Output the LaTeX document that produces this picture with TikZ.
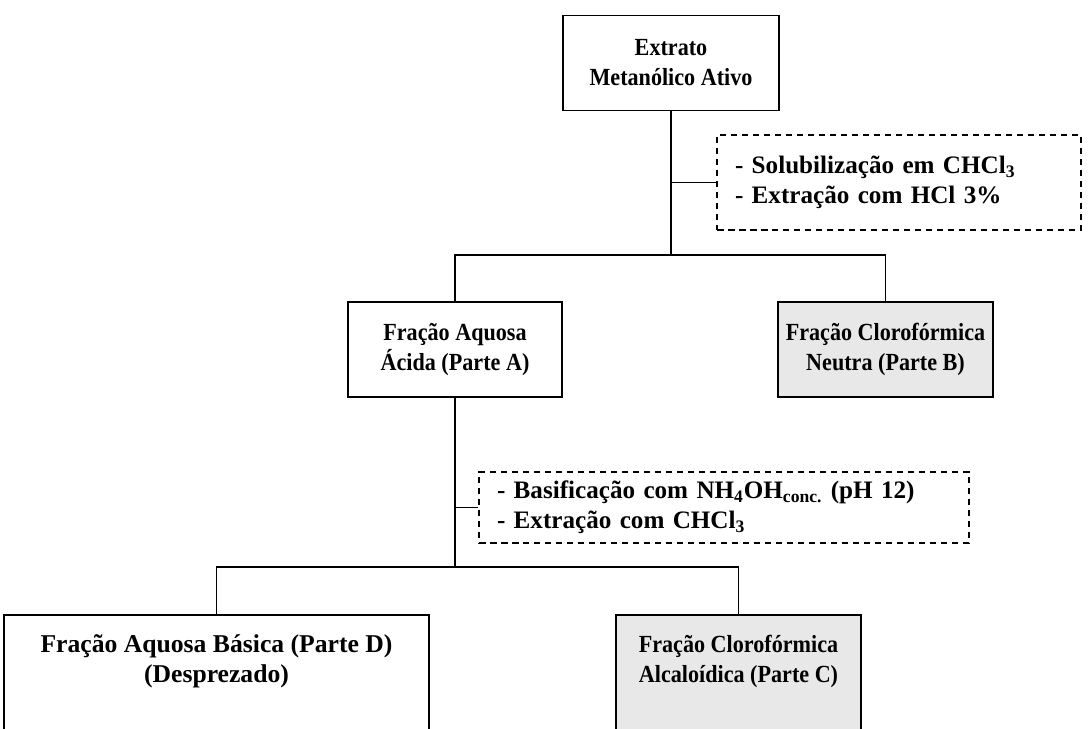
\documentclass[tikz,border=0pt]{standalone}
\usepackage{fontspec}
\setmainfont{Liberation Serif}
\newfontfamily\boxserif[FakeStretch=0.9]{Liberation Serif}
\usepackage{xcolor}
\usetikzlibrary{positioning,calc}
\definecolor{boxgray}{RGB}{232,232,232}

\begin{document}
\begin{tikzpicture}[x=0.02cm,y=-0.02cm,
  every node/.style={font=\boxserif\fontsize{14}{17}\selectfont\bfseries},
  stage/.style={rectangle,draw,line width=1pt,align=center,
                minimum height=95*0.02cm,inner sep=0pt},
  neutral/.style={stage,fill=boxgray},
  cutoff/.style={rectangle,draw,line width=1pt,align=center,
                 anchor=north,inner xsep=0pt,inner ysep=0.40cm,text depth=3cm},
  step_note/.style={rectangle,draw,dashed,line width=0.9pt,
                    dash pattern=on 0.13cm off 0.09cm,align=left,
                    inner xsep=0.36cm,
                    font=\rmfamily\fontsize{14.3}{17}\selectfont\bfseries},
  link/.style={line width=1pt},
]
\useasboundingbox (0,0) rectangle (1089,729);

% Starting extract
\node[stage,minimum width=216*0.02cm] (extrato) at (671,63)
      {Extrato\\Metanólico Ativo};

% First partition
\node[step_note,text width=328*0.02cm,minimum height=95*0.02cm] (sep1) at (899,182.5)
      {- Solubilização em CHCl\textsubscript{3}\\- Extração com HCl 3\%};
\coordinate (hub1) at (671,255);

\node[stage,minimum width=214*0.02cm] (parteA) at (455,349.5)
      {Fração Aquosa\\Ácida (Parte A)};
\node[neutral,minimum width=215*0.02cm] (parteB) at (885.5,349.5)
      {Fração Clorofórmica\\Neutra (Parte B)};

\draw[link] (extrato) -- (hub1);
\draw[link] (sep1.west -| hub1) -- (sep1.west);
\draw[link] (parteA.north) |- (hub1) -| (parteB.north);

% Second partition
\node[step_note,text width=454*0.02cm,minimum height=71*0.02cm] (sep2) at (724,507.5)
      {- Basificação com NH\textsubscript{4}OH\textsubscript{conc.} (pH 12)\\- Extração com CHCl\textsubscript{3}};
\coordinate (hub2) at (455,567);

\node[cutoff,minimum width=425*0.02cm,
      font=\rmfamily\fontsize{14.6}{17}\selectfont\bfseries] (parteD) at (216.5,614)
      {Fração Aquosa Básica (Parte D)\\(Desprezado)};
\node[cutoff,fill=boxgray,minimum width=245*0.02cm] (parteC) at (738.5,614)
      {Fração Clorofórmica\\Alcaloídica (Parte C)};

\draw[link] (parteA) -- (hub2);
\draw[link] (sep2.west -| hub2) -- (sep2.west);
\draw[link] (parteD.north) |- (hub2) -| (parteC.north);

\end{tikzpicture}
\end{document}
